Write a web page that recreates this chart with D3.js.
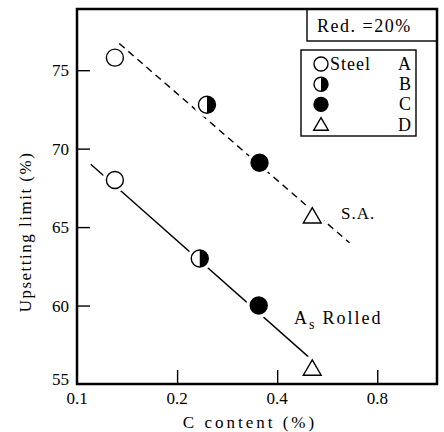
<!DOCTYPE html>
<html>
<head>
<meta charset="utf-8">
<script src="https://cdn.jsdelivr.net/npm/d3@7"></script>
</head>
<body style="margin:0">
<div class="chart"></div>
<script>
// data
var steels = ["A", "B", "C", "D"],
    saC    = [0.13, 0.246, 0.354, 0.51],
    saVal  = [75.8, 72.8, 69.1, 65.7],
    arC    = [0.13, 0.234, 0.352, 0.51],
    arVal  = [68.0, 63.0, 60.0, 56.0],
    saFit  = [[0.134, 76.7], [0.66, 64.0]],
    arFit  = [[0.11, 69.0], [0.55, 55.9]],
    xTicks = [0.1, 0.2, 0.4, 0.8],
    yTicks = [55, 60, 65, 70, 75];

var svg = d3.select(".chart").append("svg")
  .attr("width", 444)
  .attr("height", 432);

function label(g, x0, y0, size){
  return g.append("text").attr("x", x0).attr("y", y0)
    .style("font-family", "Liberation Serif").style("font-size", size + "px");
}

var x = d3.scaleLog().domain([0.1, 1.21]).range([77, 437]),
    y = d3.scaleLinear().domain([55, 78.9]).range([384, 9]);

// ticks inside the frame
svg.append("g")
  .attr("transform", "translate(0,384)")
  .call(d3.axisTop(x).tickValues(xTicks.slice(1)).tickSize(14).tickFormat(""))
  .call(g => g.select(".domain").remove())
  .call(g => g.selectAll("line").attr("stroke-width", 1.4));
svg.append("g")
  .attr("transform", "translate(77,0)")
  .call(d3.axisRight(y).tickValues(yTicks.slice(1)).tickSize(13).tickFormat(""))
  .call(g => g.select(".domain").remove())
  .call(g => g.selectAll("line").attr("stroke-width", 1.4));

xTicks.forEach(function(d){
  label(svg, x(d), 404, 17).attr("text-anchor", "middle").text(d);
});
yTicks.forEach(function(d){
  label(svg, 69, y(d) + (d == 55 ? 1 : 6), 17).attr("text-anchor", "end").text(d);
});

label(svg, 250, 428, 17).attr("text-anchor", "middle").style("letter-spacing", "3px")
  .text("C content (%)");
label(svg, 0, 0, 17)
  .attr("transform", "translate(31,232) rotate(-90)")
  .attr("text-anchor", "middle").style("letter-spacing", "1.5px")
  .text("Upsetting limit (%)");

// fit lines
var line = d3.line().x(d => x(d[0])).y(d => y(d[1]));
svg.append("path").attr("d", line(saFit)).attr("fill", "none")
  .attr("stroke", "#000").attr("stroke-width", 1.4).attr("stroke-dasharray", "7,5");
svg.append("path").attr("d", line(arFit)).attr("fill", "none")
  .attr("stroke", "#000").attr("stroke-width", 1.4);

function marker(g, kind, cx, cy, r, halo){
  if (halo) {
    g.append("circle").attr("cx", cx).attr("cy", cy).attr("r", r + 4).attr("fill", "#fff");
  }
  if (kind == "D") {
    var h = r * 1.8, w = r * 2.1;
    g.append("path")
      .attr("d", `M${cx},${cy - h*0.55}L${cx + w/2},${cy + h*0.45}L${cx - w/2},${cy + h*0.45}Z`)
      .attr("fill", "#fff").attr("stroke", "#000").attr("stroke-width", 1.4);
    return;
  }
  g.append("circle").attr("cx", cx).attr("cy", cy).attr("r", r)
    .attr("fill", kind == "C" ? "#000" : "#fff")
    .attr("stroke", "#000").attr("stroke-width", 1.4);
  if (kind == "B") {
    g.append("path")
      .attr("d", `M${cx},${cy - r}A${r},${r} 0 0 1 ${cx},${cy + r}Z`)
      .attr("fill", "#000");
  }
}

var pts = svg.append("g");
steels.forEach(function(s, i){
  marker(pts, s, x(saC[i]), y(saVal[i]), 8.5, true);
  marker(pts, s, x(arC[i]), y(arVal[i]), 8.5, true);
});

label(svg, 341, 219, 17).style("letter-spacing", "1px").text("S.A.");
var ar = label(svg, 294, 324, 18).style("letter-spacing", "2px");
ar.append("tspan").text("A");
ar.append("tspan").attr("dy", 5).style("font-size", "14px").text("s");
ar.append("tspan").attr("dy", -5).attr("dx", 6).text("Rolled");

// legend boxes
svg.append("rect").attr("x", 307).attr("y", 9).attr("width", 130).attr("height", 32)
  .attr("fill", "#fff").attr("stroke", "#000").attr("stroke-width", 1.4);
label(svg, 317, 32, 18).style("letter-spacing", "1.5px").text("Red. =20%");

svg.append("rect").attr("x", 301).attr("y", 50).attr("width", 115).attr("height", 86)
  .attr("fill", "#fff").attr("stroke", "#000").attr("stroke-width", 1.4);
var leg = svg.append("g");
steels.forEach(function(s, i){
  var ly = 64 + i * 20.2;
  marker(leg, s, 321, ly, 7, false);
  label(leg, 411, ly + 6, 18).attr("text-anchor", "end").text(s);
});
label(leg, 330, 70, 18).style("letter-spacing", "1px").text("Steel");

// frame
svg.append("rect").attr("x", 77).attr("y", 9).attr("width", 360).attr("height", 375)
  .attr("fill", "none").attr("stroke", "#000").attr("stroke-width", 2.5);
</script>
</body>
</html>
